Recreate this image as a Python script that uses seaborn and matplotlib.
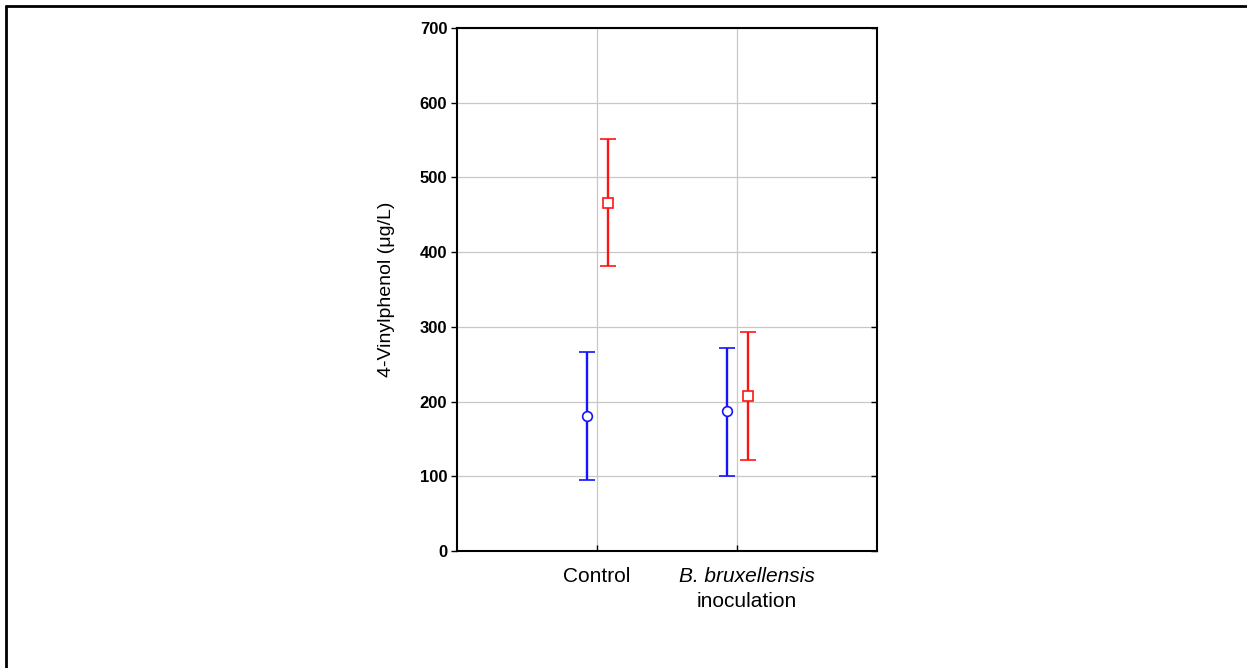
import matplotlib
matplotlib.use("Agg")
import matplotlib.pyplot as plt
import matplotlib.transforms as mtransforms
from matplotlib.lines import Line2D
import seaborn as sns
import numpy as np
import pandas as pd

categories = ["Control", "B. bruxellensis inoculation"]
series_names = ["Series A", "Series B"]
blue_mean = [181, 187]
blue_low = [95, 101]
blue_high = [266, 272]
red_mean = [466, 207]
red_low = [381, 122]
red_high = [551, 293]
y_ticks = [0, 100, 200, 300, 400, 500, 600, 700]

sns.set_style("white")
plt.rcParams["font.family"] = ["Liberation Sans", "DejaVu Sans"]
plt.rcParams["text.color"] = "black"
plt.rcParams["axes.labelcolor"] = "black"

fig = plt.figure(figsize=(12.47, 6.68), dpi=100)
ax = fig.add_axes([457 / 1247, 1 - 551 / 668, 420 / 1247, 523 / 668])

df = pd.DataFrame({
    "cat": categories * 2,
    "series": [series_names[0]] * 2 + [series_names[1]] * 2,
    "mean": blue_mean + red_mean,
    "low": blue_low + red_low,
    "high": blue_high + red_high,
})

colors = {series_names[0]: "#1414ff", series_names[1]: "#ff1414"}
markers = {series_names[0]: "o", series_names[1]: "s"}
offsets = {series_names[0]: -0.075, series_names[1]: 0.075}
sizes = {series_names[0]: 7, series_names[1]: 6.5}

for s in series_names:
    sub = df[df["series"] == s]
    xs = np.arange(len(sub)) + offsets[s]
    m = sub["mean"].to_numpy()
    yerr = np.vstack([m - sub["low"].to_numpy(), sub["high"].to_numpy() - m])
    ax.errorbar(xs, m, yerr=yerr, fmt=markers[s], color=colors[s],
                markerfacecolor="white", markeredgecolor=colors[s],
                markersize=sizes[s], elinewidth=1.7, capsize=5.5, capthick=1.7,
                markeredgewidth=1.2, zorder=3)

ax.set_xlim(-1, 2)
ax.set_ylim(0, 700)
ax.set_yticks(y_ticks)
ax.set_yticklabels([str(v) for v in y_ticks], fontsize=12, fontweight="bold")
ax.set_xticks([0, 1])
ax.set_xticklabels(["", ""])
ax.grid(True, color="#c8c8c8", linewidth=0.9)
ax.set_axisbelow(True)
for sp in ax.spines.values():
    sp.set_color("black")
    sp.set_linewidth(1.5)
    sp.set_visible(True)
ax.tick_params(axis="y", which="both", direction="out", length=4, width=1, left=True, right=False, pad=3, colors="black")
ax.tick_params(axis="x", direction="in", length=4, width=1, bottom=True, colors="black")
ax.set_ylabel("4-Vinylphenol (μg/L)", fontsize=14, labelpad=18)

ax2 = ax.twinx()
ax2.set_ylim(0, 700)
ax2.set_yticks(y_ticks)
ax2.tick_params(axis="y", direction="in", length=4, width=1, right=True, labelright=False, colors="black")
for sp in ax2.spines.values():
    sp.set_visible(False)

trans = mtransforms.blended_transform_factory(ax.transData, ax.transAxes)
ax.text(0, -0.049, "Control", transform=trans, ha="center", va="center", fontsize=15)
ax.text(1.07, -0.049, "B. bruxellensis", transform=trans, ha="center", va="center",
        fontsize=15, style="italic")
ax.text(1.07, -0.097, "inoculation", transform=trans, ha="center", va="center", fontsize=15)

# figure frame (top and left)
fig.add_artist(Line2D([6 / 1247, 1.0], [1 - 6 / 668, 1 - 6 / 668], transform=fig.transFigure,
                      color="black", linewidth=2))
fig.add_artist(Line2D([6 / 1247, 6 / 1247], [0, 1 - 6 / 668], transform=fig.transFigure,
                      color="black", linewidth=2))

fig.savefig("out.png", dpi=100, facecolor="white")
